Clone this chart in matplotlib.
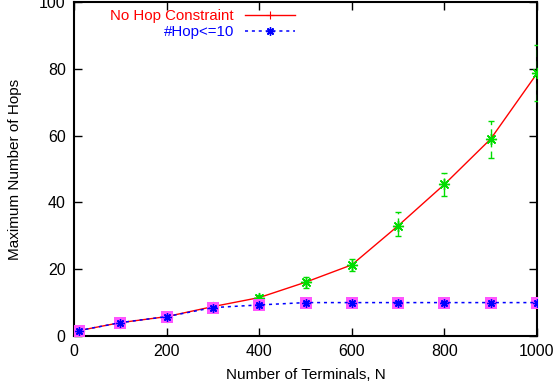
import matplotlib.pyplot as plt

plt.rcParams['font.family'] = ['Liberation Sans', 'DejaVu Sans']

# data
terminals = [10, 100, 200, 300, 400, 500, 600, 700, 800, 900, 1000]
hops_free = [1.6, 4.0, 5.8, 8.8, 11.5, 16.1, 21.3, 33.0, 45.4, 59.0, 78.6]
err_lo = [0.3, 0.4, 0.5, 0.8, 0.9, 1.8, 1.8, 3.0, 3.4, 5.6, 8.2]
err_hi = [0.3, 0.4, 0.5, 0.8, 0.8, 1.5, 1.9, 4.0, 3.3, 5.5, 8.5]
hops_limited = [1.6, 4.0, 5.8, 8.5, 9.3, 10.0, 10.0, 10.0, 10.0, 10.0, 10.0]

label_free = 'No Hop Constraint'
label_limited = '#Hop<=10'

asterisk = (8, 2, 0)

fig = plt.figure(figsize=(5.58, 3.85), dpi=100)
ax = fig.add_axes([74 / 558, 49 / 385, 463 / 558, 334 / 385])

h1, = ax.plot(terminals, hops_free, '-', color='red', lw=1, marker='+', ms=6, mew=0.8, zorder=3)

# green dashed error bars with asterisk markers
eb = ax.errorbar(terminals, hops_free, yerr=[err_lo, err_hi], fmt='none',
                 ecolor='#00dd00', elinewidth=1, capsize=2.5, capthick=1, zorder=4)
eb[2][0].set_linestyle((0, (5, 3)))
ax.plot(terminals, hops_free, ls='none', marker=asterisk, color='#00dd00', ms=8, mew=1, zorder=4)

ax.plot(terminals, hops_limited, 's', color='#ff55ff', ms=8, mew=0, zorder=5)
h2, = ax.plot(terminals, hops_limited, color='blue', ls=(0, (2, 2.5)), lw=1.1,
              marker=asterisk, ms=6, mew=1, zorder=6)

ax.set_xlim(0, 1000)
ax.set_ylim(0, 100)
ax.set_xticks(range(0, 1001, 200))
ax.set_yticks(range(0, 101, 20))
ax.tick_params(direction='in', length=6, width=1, top=True, right=True,
               labelsize=11.5, pad=6)
for sp in ax.spines.values():
    sp.set_linewidth(1.5)
ax.set_xlabel('Number of Terminals, N', fontsize=11, labelpad=6)
ax.set_ylabel('Maximum Number of Hops', fontsize=11, labelpad=12)

leg1 = ax.legend([h1], [label_free], loc='center right', bbox_to_anchor=(0.477, 0.958),
                 markerfirst=False, frameon=False, labelcolor=['red'], fontsize=10.8,
                 borderpad=0, borderaxespad=0, handlelength=3.3, handletextpad=0.75)
ax.add_artist(leg1)
ax.legend([h2], [label_limited], loc='center right', bbox_to_anchor=(0.477, 0.910),
          markerfirst=False, frameon=False, labelcolor=['blue'], fontsize=10.8,
          borderpad=0, borderaxespad=0, handlelength=3.3, handletextpad=0.75)

fig.savefig('out.png', dpi=100)
